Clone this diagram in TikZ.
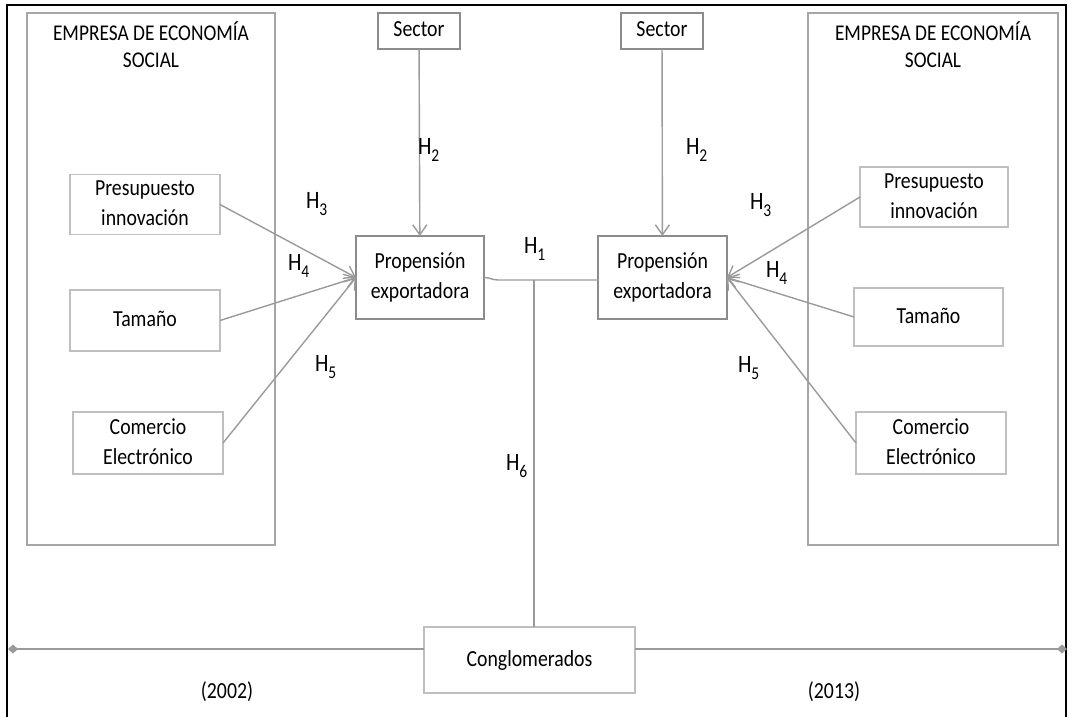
\documentclass[tikz,border=0pt]{standalone}
\usepackage{fontspec}
\setmainfont{Carlito}
\usepackage{graphicx}
\usetikzlibrary{arrows.meta,calc}
\definecolor{lnc}{HTML}{9A9A9A}
\definecolor{bxlight}{HTML}{BFBFBF}
\definecolor{bxmid}{HTML}{A6A6A6}
\definecolor{bxdark}{HTML}{8C8C8C}
\tikzset{dtip/.tip={Diamond[length=10pt,width=9pt,fill=lnc]}}
\newcommand{\tx}[1]{\scalebox{0.86}[1]{\begin{tabular}{@{}c@{}}#1\end{tabular}}}
\newcommand{\hh}[1]{\scalebox{0.86}[1]{H\raisebox{-7pt}{\fontsize{18}{18}\selectfont #1}}}
\begin{document}
\begin{tikzpicture}[x=1pt,y=-1pt,
  every node/.style={inner sep=0pt,outer sep=0pt},
  txt/.style={font=\fontsize{23}{30}\selectfont},
  hlab/.style={font=\fontsize{25}{30}\selectfont,anchor=base west},
  ttl/.style={font=\fontsize{22.5}{27}\selectfont},
  esc/.style={draw=bxmid,line width=1.3pt},
  box/.style={draw=bxlight,line width=1.4pt,fill=white,txt},
  pbox/.style={draw=bxdark,line width=1.5pt,fill=white,txt},
  sbox/.style={draw=bxdark,line width=1.3pt,fill=white,txt},
  conn/.style={draw=lnc,line width=1.4pt},
  arr/.style={conn,-{Straight Barb[length=10pt,width=14pt]}},
  tl/.style={draw=lnc,line width=2pt}
]
\useasboundingbox (0,0) rectangle (1072,717);
% outer frame
\draw[line width=2pt] (7,725) -- (7,5) -- (1066,5) -- (1066,725);

% social-economy boxes
\node[esc,minimum width=248pt,minimum height=532pt] (escL) at (151,279) {};
\node[esc,minimum width=250pt,minimum height=532pt] (escR) at (933,279) {};
\node[ttl,anchor=north] (ttlL) at (151,22) {\tx{EMPRESA DE ECONOMÍA\\SOCIAL}};
\node[ttl,anchor=north] (ttlR) at (933,22) {\tx{EMPRESA DE ECONOMÍA\\SOCIAL}};

% sector boxes
\node[sbox,minimum width=82pt,minimum height=36pt] (secL) at (419,31) {\tx{Sector}};
\node[sbox,minimum width=82pt,minimum height=36pt] (secR) at (662,31) {\tx{Sector}};

% propension boxes
\node[pbox,minimum width=128pt,minimum height=83pt] (propL) at (420,277.5) {\tx{Propensión\\exportadora}};
\node[pbox,minimum width=129pt,minimum height=83pt] (propR) at (662.5,277.5) {\tx{Propensión\\exportadora}};

% left factor boxes
\node[box,minimum width=150pt,minimum height=59pt] (presL) at (145,204.5) {\tx{Presupuesto\\innovación}};
\node[box,minimum width=150pt,minimum height=61pt] (tamL) at (145,320.5) {\tx{Tamaño}};
\node[box,minimum width=150pt,minimum height=62pt] (comL) at (148,443) {\tx{Comercio\\Electrónico}};

% right factor boxes
\node[box,minimum width=148pt,minimum height=60pt] (presR) at (934,197) {\tx{Presupuesto\\innovación}};
\node[box,minimum width=149pt,minimum height=58pt] (tamR) at (928.5,317) {\tx{Tamaño}};
\node[box,minimum width=150pt,minimum height=62pt] (comR) at (931,443) {\tx{Comercio\\Electrónico}};

% conglomerados
\node[box,minimum width=211pt,minimum height=66pt] (cong) at (529.5,660) {\tx{Conglomerados}};

% arrows
\draw[arr] (secL) -- (propL);
\draw[arr] (secR) -- (propR);
\draw[arr] (presL.east) -- (propL.west);
\draw[arr] (tamL.east) -- (propL.west);
\draw[arr] (comL.east) -- (propL.west);
\draw[arr] (presR.west) -- (propR.east);
\draw[arr] (tamR.west) -- (propR.east);
\draw[arr] (comR.west) -- (propR.east);

% H1 / H6 connector
\coordinate (hj) at (534,280);
\draw[conn] (propL.east) to[out=0,in=180] ++(14,2.5) -- (hj) -- (propR.west |- hj);
\draw[conn] (hj) -- (hj |- cong.north);

% time line
\coordinate (dL) at (8,649);
\coordinate (dR) at (1067,649);
\draw[tl,{dtip}-] (dL) -- (dL -| cong.west);
\draw[tl,-{dtip}] (dL -| cong.east) -- (dR);

\node[txt] (y1) at (227,692) {\tx{(2002)}};
\node[txt] (y2) at (834,692) {\tx{(2013)}};

% hypothesis labels
\node[hlab] (h1) at (524,253) {\hh{1}};
\node[hlab] (h2L) at (418,154) {\hh{2}};
\node[hlab] (h2R) at (686,154) {\hh{2}};
\node[hlab] (h3L) at (306,208) {\hh{3}};
\node[hlab] (h3R) at (750,209) {\hh{3}};
\node[hlab] (h4L) at (288,270) {\hh{4}};
\node[hlab] (h4R) at (766,277) {\hh{4}};
\node[hlab] (h5L) at (315,371) {\hh{5}};
\node[hlab] (h5R) at (738,372) {\hh{5}};
\node[hlab] (h6) at (506,470) {\hh{6}};
\end{tikzpicture}
\end{document}
